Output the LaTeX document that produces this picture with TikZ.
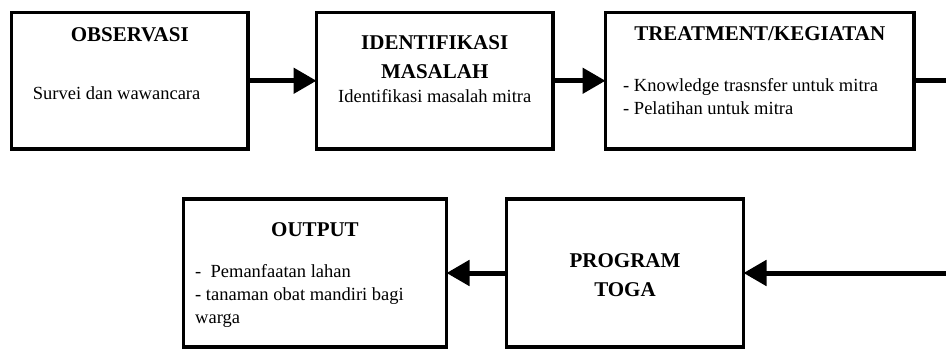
\documentclass[tikz,border=0pt]{standalone}
\usepackage{fontspec}
\setmainfont{Liberation Serif}
\usetikzlibrary{positioning,calc,arrows.meta}

\begin{document}
\begin{tikzpicture}[
      x=1pt,y=1pt,
      box/.style={draw,rectangle,line width=3.5pt,inner sep=0pt,outer sep=0pt,
        minimum height=136.5pt},
      head/.style={font=\fontsize{21}{29}\selectfont\bfseries,align=center,
        inner sep=0pt,anchor=base},
      body/.style={font=\fontsize{18.5}{22.8}\selectfont,inner sep=0pt},
      flow/.style={-{Triangle[length=23pt,width=25pt]},line width=5pt},
      ]
      \useasboundingbox (0,0) rectangle (946,349);
      \clip (0,0) rectangle (946,349);

      \node (obs) [box,minimum width=236.5pt] at (129.75,268.25) {};
      \node (idn) [box,minimum width=236.5pt,right=68.5pt of obs] {};
      \node (trt) [box,minimum width=308.5pt,right=52.5pt of idn] {};
      \node (out) [box,minimum width=263pt,minimum height=148pt,
        below=50pt of obs.south,xshift=185.25pt] {};
      \node (prg) [box,minimum width=237pt,minimum height=148pt,right=60pt of out] {};
      \coordinate (turn) at (965,76);

      \node (obsT) [head] at ($(obs.north)+(0,-29.5)$) {OBSERVASI};
      \node (obsB) [body,anchor=base west] at ($(obs.north west)+(21.2,-86.8)$)
        {Survei dan wawancara};
      \node (idnT) [head] at ($(idn.north)+(0,-66.5)$) {IDENTIFIKASI\\MASALAH};
      \node (idnB) [body,anchor=base] at ($(idn.north)+(0,-89.8)$)
        {Identifikasi masalah mitra};
      \node (trtT) [head] at ($(trt.north)+(0,-28.2)$) {TREATMENT/KEGIATAN};
      \node (trtB) [body,align=left,anchor=base west] at ($(trt.north west)+(17.5,-101.5)$)
        {- Knowledge trasnsfer untuk mitra\\- Pelatihan untuk mitra};
      \node (outT) [head] at ($(out.north)+(0,-37)$) {OUTPUT};
      \node (outB) [body,align=left,anchor=base west] at ($(out.north west)+(11.5,-124.5)$)
        {-\ \ Pemanfaatan lahan\\- tanaman obat mandiri bagi\\warga};
      \node (prgT) [head] at ($(prg.north)+(0,-97.7)$) {PROGRAM\\TOGA};

      \draw [flow] (obs) to (idn);
      \draw [flow] (idn) to (trt);
      \draw [flow] (trt.east) -| (turn) |- (prg.east);
      \draw [flow] (prg) to (out);
  \end{tikzpicture}
\end{document}
